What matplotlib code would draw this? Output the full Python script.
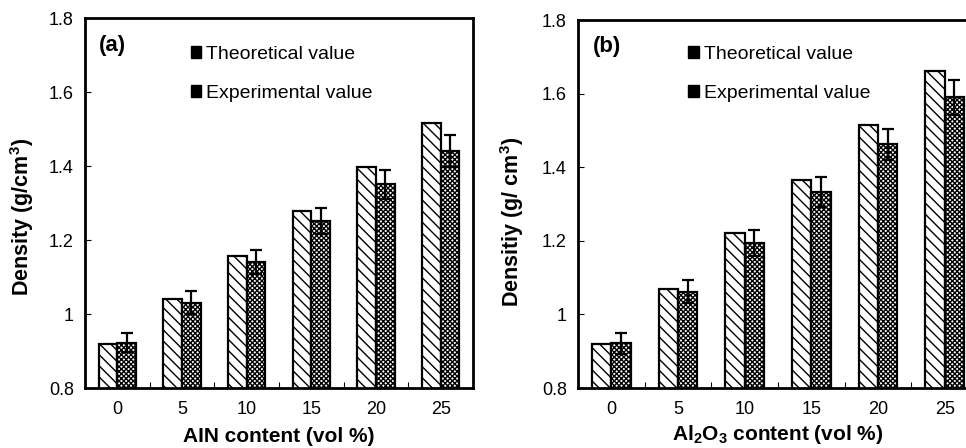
import matplotlib
matplotlib.use("Agg")
import matplotlib.pyplot as plt
import numpy as np
from matplotlib.ticker import FuncFormatter, FixedLocator
from matplotlib.patches import Patch

plt.rcParams['font.family'] = ['Liberation Sans', 'DejaVu Sans']
plt.rcParams['mathtext.default'] = 'regular'
plt.rcParams['hatch.linewidth'] = 1.0

categories = ['0', '5', '10', '15', '20', '25']

theo_a = [0.918, 1.040, 1.158, 1.278, 1.396, 1.516]
exp_a = [0.922, 1.031, 1.141, 1.251, 1.351, 1.441]
err_a = [0.026, 0.030, 0.033, 0.036, 0.039, 0.044]

theo_b = [0.920, 1.069, 1.220, 1.366, 1.514, 1.662]
exp_b = [0.921, 1.062, 1.193, 1.333, 1.462, 1.590]
err_b = [0.028, 0.031, 0.035, 0.040, 0.042, 0.047]

legend_labels = ['Theoretical value', 'Experimental value']

W, H = 966, 448
fig = plt.figure(figsize=(W / 100, H / 100), dpi=100)

panels = [
    dict(rect=[85 / W, 1 - 388 / H, 388 / W, 370 / H], theo=theo_a, exp=exp_a, err=err_a,
         tag='(a)', ylabel='Density (g/cm$^3$)', xlabel='AIN content (vol %)',
         leg_x=0.272, leg_y=0.925, ylab_x=36, ylab_y=0.462, xfs=15, xpad=7),
    dict(rect=[578 / W, 1 - 388 / H, 400 / W, 368 / H], theo=theo_b, exp=exp_b, err=err_b,
         tag='(b)', ylabel='Densitiy (g/ cm$^3$)', xlabel='Al$_2$O$_3$ content (vol %)',
         leg_x=0.275, leg_y=0.93, ylab_x=526, ylab_y=0.45, xfs=15, xpad=4),
]

bw = 0.29
hatch_t = '\\' * 3
hatch_e = 'x' * 7

for p in panels:
    ax = fig.add_axes(p['rect'])
    x = np.arange(len(categories))
    ax.bar(x - bw / 2, p['theo'], width=bw, color='white', edgecolor='black',
           linewidth=1.6, hatch=hatch_t, zorder=2)
    ax.bar(x + bw / 2, p['exp'], width=bw, color='white', edgecolor='black',
           linewidth=1.6, hatch=hatch_e, zorder=2)
    ax.errorbar(x + bw / 2, p['exp'], yerr=p['err'], fmt='none', ecolor='black',
                elinewidth=1.6, capsize=4.5, capthick=1.6, zorder=3)
    ax.set_xlim(-0.5, len(categories) - 0.5)
    ax.set_ylim(0.8, 1.8)
    ax.set_xticks(x)
    ax.set_xticklabels(categories)
    ax.xaxis.set_minor_locator(FixedLocator(np.arange(0.5, len(categories) - 0.5, 1)))
    ax.tick_params(axis='x', which='major', length=0, labelsize=13, pad=9)
    ax.tick_params(axis='x', which='minor', length=4, direction='in', width=0.8)
    ax.set_yticks(np.arange(0.8, 1.81, 0.2))
    ax.yaxis.set_major_formatter(FuncFormatter(lambda v, pos: '%g' % round(v, 1)))
    ax.tick_params(axis='y', length=4, direction='in', width=0.8, labelsize=13, pad=8)
    for s in ax.spines.values():
        s.set_linewidth(2)
    ax.set_xlabel(p['xlabel'], fontsize=p['xfs'], fontweight='bold', labelpad=p['xpad'])
    ax.set_ylabel(p['ylabel'], fontsize=15.5, fontweight='bold')
    ax.yaxis.set_label_coords((p['ylab_x'] - p['rect'][0] * W) / (p['rect'][2] * W), p['ylab_y'])
    ax.text(0.037, 0.927, p['tag'], transform=ax.transAxes, fontsize=16, fontweight='bold',
            va='center', ha='left')
    handles = [Patch(facecolor='black', edgecolor='black', hatch=hatch_t, linewidth=1),
               Patch(facecolor='black', edgecolor='black', hatch=hatch_e, linewidth=1)]
    ax.legend(handles, legend_labels, loc='upper left', bbox_to_anchor=(p['leg_x'], p['leg_y']),
              frameon=False, fontsize=14, handlelength=0.55, handleheight=0.55,
              handletextpad=0.25, labelspacing=1.15, borderpad=0, borderaxespad=0)

fig.savefig('out.png', dpi=100)
